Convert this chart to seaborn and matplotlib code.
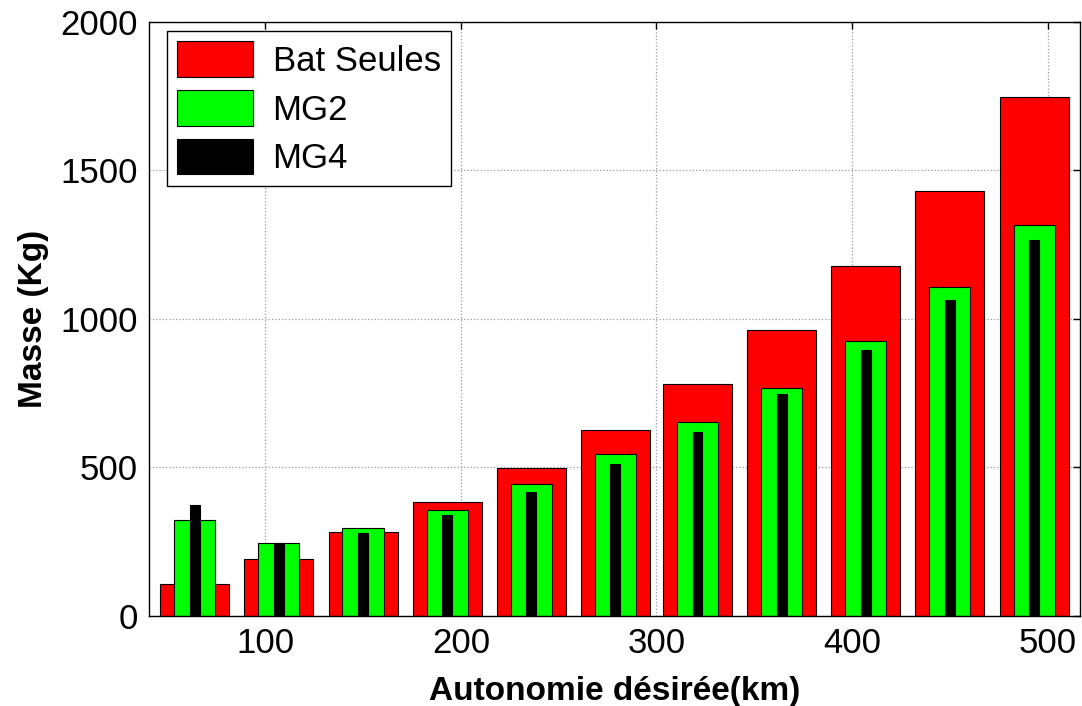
import matplotlib
matplotlib.use("Agg")
import matplotlib.pyplot as plt
import seaborn as sns
import pandas as pd

# Valeurs
autonomie = [64, 107, 150, 193, 236, 279, 321, 364, 407, 450, 493]
bat_seules = [108, 190, 283, 384, 498, 625, 781, 962, 1178, 1431, 1749]
mg2 = [323, 244, 296, 356, 444, 545, 652, 767, 927, 1109, 1317]
mg4 = [372, 244, 277, 338, 418, 512, 620, 748, 895, 1063, 1265]

x_ticks = [100, 200, 300, 400, 500]
y_ticks = [0, 500, 1000, 1500, 2000]

sns.set_theme(style="white")
plt.rcParams['font.family'] = ['Liberation Sans', 'DejaVu Sans']
plt.rcParams['text.color'] = 'black'
plt.rcParams['axes.labelcolor'] = 'black'

donnees = pd.DataFrame({
    'autonomie': autonomie,
    'Bat Seules': bat_seules,
    'MG2': mg2,
    'MG4': mg4,
})

fig = plt.figure(figsize=(10.82, 7.06), dpi=100)
ax = fig.add_axes([0.1377, 0.1279, 0.8603, 0.8409])

series = [('Bat Seules', '#ff0000', 0.84),
          ('MG2', '#00ff00', 0.50),
          ('MG4', '#000000', 0.12)]

for nom, couleur, largeur in series:
    sns.barplot(data=donnees, x='autonomie', y=nom, native_scale=True,
                width=largeur, color=couleur, saturation=1, errorbar=None,
                edgecolor='black', linewidth=0.8, label=nom, ax=ax)

ax.set_xlim(40.6, 516.4)
ax.set_ylim(0, 2000)
ax.set_xticks(x_ticks)
ax.set_yticks(y_ticks)
ax.grid(True, linestyle=':', color='#9a9a9a', linewidth=0.9)
ax.set_axisbelow(True)

ax.tick_params(axis='both', direction='in', length=5, width=1,
               top=True, right=True, labelsize=25, colors='black', pad=8)
for s in ax.spines.values():
    s.set_visible(True)
    s.set_color('black')
    s.set_linewidth(1)

ax.set_xlabel('Autonomie désirée(km)', fontsize=24, fontweight='bold', labelpad=12)
ax.set_ylabel('Masse (Kg)', fontsize=24, fontweight='bold', labelpad=8)

leg = ax.legend(loc='upper left', bbox_to_anchor=(0.019, 0.985),
                borderaxespad=0, fontsize=25, frameon=True, fancybox=False,
                handlelength=2.2, handleheight=1.2, labelspacing=0.35,
                handletextpad=0.55, borderpad=0.3)
leg.get_frame().set_edgecolor('black')
leg.get_frame().set_linewidth(1)
leg.get_frame().set_alpha(1)

fig.savefig('out.png', dpi=100)
